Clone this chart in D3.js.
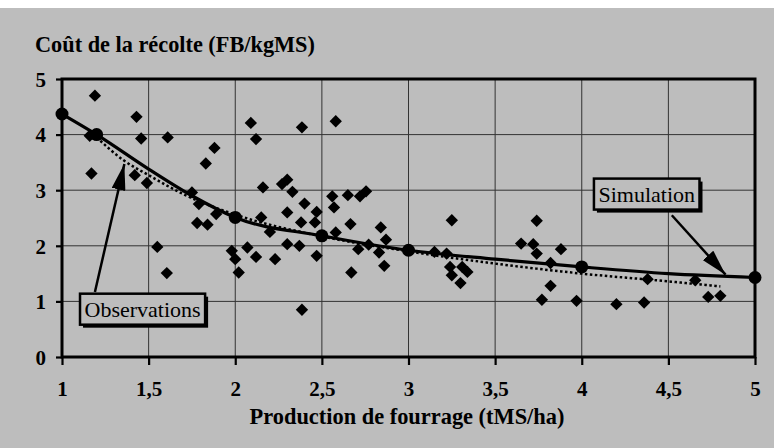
<!DOCTYPE html>
<html><head><meta charset="utf-8">
<script src="https://cdn.jsdelivr.net/npm/d3@7"></script>
<style>html,body{margin:0;padding:0;background:#fff;}svg{display:block;}
svg text{font-family:"Liberation Serif","Tinos","Times New Roman",Times,"DejaVu Serif",serif;}</style>
</head><body>
<script>
// ---- data ----
const yTitle = "Coût de la récolte (FB/kgMS)";
const xTitle = "Production de fourrage (tMS/ha)";
const xTicks = [1,1.5,2,2.5,3,3.5,4,4.5,5];
const xTickLabels = ["1","1,5","2","2,5","3","3,5","4","4,5","5"];
const yTicks = [0,1,2,3,4,5];
const yTickLabels = ["0","1","2","3","4","5"];

// observations (x = production, y = cost)
const obsX = [1.19,1.43,1.16,1.457,1.61,1.88,1.83,1.17,1.42,1.49,1.75,1.79,1.89,1.78,1.84,1.55,1.98,2.0,1.605,2.02,
  2.09,2.385,2.58,2.12,2.16,2.27,2.30,2.33,2.56,2.65,2.72,2.755,2.40,2.57,2.30,2.47,2.15,2.38,2.46,2.665,2.84,2.20,2.58,2.87,
  2.30,2.37,2.07,2.71,2.77,2.83,2.12,2.23,2.47,2.86,2.67,2.385,
  3.25,3.74,3.65,3.72,3.74,3.88,3.15,3.22,3.24,3.31,3.34,3.25,3.30,3.82,3.82,3.77,3.97,
  4.38,4.655,4.73,4.80,4.20,4.36];
const obsY = [4.70,4.32,3.98,3.93,3.95,3.76,3.48,3.30,3.27,3.13,2.96,2.75,2.57,2.41,2.38,1.98,1.91,1.76,1.51,1.52,
  4.21,4.13,4.24,3.92,3.05,3.11,3.19,2.97,2.89,2.91,2.89,2.98,2.76,2.69,2.60,2.61,2.51,2.42,2.42,2.39,2.33,2.25,2.24,2.11,
  2.03,2.00,1.97,1.94,2.02,1.88,1.80,1.76,1.82,1.64,1.52,0.85,
  2.46,2.45,2.04,2.03,1.86,1.94,1.89,1.86,1.62,1.62,1.53,1.47,1.33,1.69,1.28,1.03,1.01,
  1.40,1.38,1.08,1.10,0.95,0.98];

// simulation curve (solid) and its markers
const simX = [1,1.2,1.5,1.75,2,2.5,3,3.5,4,4.5,5];
const simY = [4.37,4.0,3.38,2.9,2.51,2.18,1.92,1.76,1.62,1.5,1.43];
const simMarkX = [1,1.2,2,2.5,3,4,5];
const simMarkY = [4.37,4.0,2.51,2.18,1.92,1.62,1.43];

// observation trend (dotted)
const fitX = [1.2,1.35,1.5,1.7,2,2.5,3,3.5,4,4.5,4.8];
const fitY = [3.95,3.55,3.27,2.93,2.56,2.17,1.9,1.68,1.5,1.36,1.27];

// annotation labels
const labels = ["Observations","Simulation"];
const labelCX = [1.465,4.375];
const labelCY = [0.86,2.93];
const arrowFromX = [1.19,4.52];
const arrowFromY = [1.17,2.55];
const arrowToX = [1.36,4.83];
const arrowToY = [3.47,1.48];

// ---- drawing ----
const W = 778, H = 448;
const svg = d3.select("body").append("svg").attr("width",W).attr("height",H);
const bg = "#bdbdbd";
svg.append("rect").attr("x",0).attr("y",8).attr("width",774).attr("height",440).attr("fill",bg);

const x = d3.scaleLinear().domain([1,5]).range([62,755]);
const y = d3.scaleLinear().domain([0,5]).range([357,79]);

// gridlines
const g = svg.append("g");
g.selectAll(".hg").data(yTicks.filter(d=>d>0&&d<5)).join("line")
  .attr("x1",x(1)).attr("x2",x(5)).attr("y1",d=>y(d)).attr("y2",d=>y(d))
  .attr("stroke","#333").attr("stroke-width",1);
g.selectAll(".vg").data(xTicks.filter(d=>d>1&&d<5)).join("line")
  .attr("y1",y(0)).attr("y2",y(5)).attr("x1",d=>x(d)).attr("x2",d=>x(d))
  .attr("stroke","#333").attr("stroke-width",1);

// axes via d3
const xAxis = d3.axisBottom(x).tickValues(xTicks).tickSize(8).tickFormat((d,i)=>xTickLabels[i]).tickPadding(16);
const yAxis = d3.axisLeft(y).tickValues(yTicks).tickSize(6).tickFormat((d,i)=>yTickLabels[i]).tickPadding(10);
const gx = svg.append("g").attr("transform",`translate(0,${y(0)})`).call(xAxis);
const gy = svg.append("g").attr("transform",`translate(${x(1)},0)`).call(yAxis);
[gx,gy].forEach(a=>{
  a.attr("font-family",null).attr("font-size",null);
  a.select(".domain").remove();
  a.selectAll(".tick line").attr("stroke","#000").attr("stroke-width",2.2);
  a.selectAll(".tick text").attr("fill","#000").attr("font-weight","bold").attr("font-size",21);
});
gy.selectAll(".tick text").attr("dy","0.35em");

// frame
svg.append("rect").attr("x",x(1)).attr("y",y(5)).attr("width",x(5)-x(1)).attr("height",y(0)-y(5))
  .attr("fill","none").attr("stroke","#000").attr("stroke-width",3);

// observation points (diamonds)
const obs = obsX.map((v,i)=>[v,obsY[i]]);
svg.append("g").selectAll("path").data(obs).join("path")
  .attr("d",d3.symbol(d3.symbolSquare,76)())
  .attr("transform",d=>`translate(${x(d[0])},${y(d[1])}) rotate(45)`)
  .attr("fill","#000");

// dotted fit
const line = d3.line().curve(d3.curveMonotoneX).x(d=>x(d[0])).y(d=>y(d[1]));
svg.append("path").datum(fitX.map((v,i)=>[v,fitY[i]])).attr("d",line)
  .attr("fill","none").attr("stroke","#000").attr("stroke-width",2.5).attr("stroke-dasharray","2.5,2.5");

// simulation
svg.append("path").datum(simX.map((v,i)=>[v,simY[i]])).attr("d",line)
  .attr("fill","none").attr("stroke","#000").attr("stroke-width",3.2);
svg.append("g").selectAll("circle").data(simMarkX.map((v,i)=>[v,simMarkY[i]])).join("circle")
  .attr("cx",d=>x(d[0])).attr("cy",d=>y(d[1])).attr("r",6.5).attr("fill","#000");

// arrows
const defs = svg.append("defs");
defs.append("marker").attr("id","ah").attr("viewBox","0 0 26 14").attr("refX",26).attr("refY",7)
  .attr("markerWidth",26).attr("markerHeight",14).attr("markerUnits","userSpaceOnUse").attr("orient","auto")
  .append("path").attr("d","M0,0 L26,7 L0,14 Z").attr("fill","#000");
labels.forEach((t,i)=>{
  svg.append("line").attr("x1",x(arrowFromX[i])).attr("y1",y(arrowFromY[i]))
    .attr("x2",x(arrowToX[i])).attr("y2",y(arrowToY[i]))
    .attr("stroke","#000").attr("stroke-width",2.5).attr("marker-end","url(#ah)");
});
// label boxes
labels.forEach((t,i)=>{
  const cx = x(labelCX[i]), cy = y(labelCY[i]);
  const gl = svg.append("g");
  const txt = gl.append("text").attr("x",cx).attr("y",cy).attr("dy","0.35em").attr("text-anchor","middle")
    .attr("font-size",22).attr("fill","#000").text(t);
  const w = txt.node().getComputedTextLength()+9, h = 31;
  gl.insert("rect","text").attr("x",cx-w/2+3).attr("y",cy-h/2+3).attr("width",w).attr("height",h).attr("fill","#000");
  gl.insert("rect","text").attr("x",cx-w/2).attr("y",cy-h/2).attr("width",w).attr("height",h)
    .attr("fill",bg).attr("stroke","#000").attr("stroke-width",2.5);
});

// titles
svg.append("text").attr("x",35).attr("y",52).attr("font-weight","bold")
  .attr("font-size",22.3).attr("fill","#000").text(yTitle);
svg.append("text").attr("x",407).attr("y",424).attr("text-anchor","middle").attr("font-weight","bold")
  .attr("font-size",22.4).attr("fill","#000").text(xTitle);
</script>
</body></html>
